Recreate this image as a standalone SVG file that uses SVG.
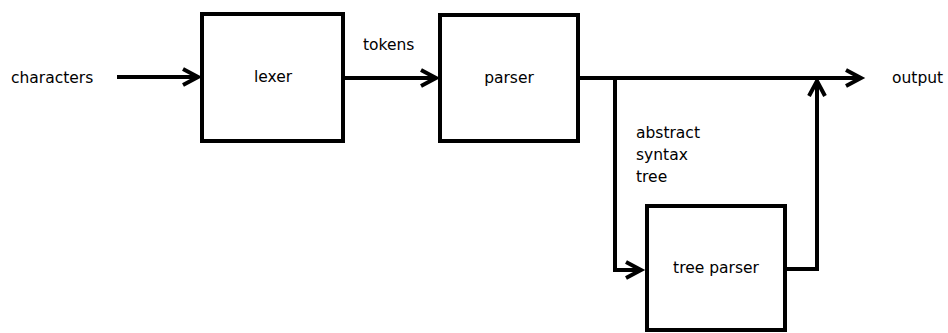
<svg xmlns="http://www.w3.org/2000/svg" width="948" height="333" viewBox="0 0 948 333">
  <style>
    .box { fill: #ffffff; stroke: #000000; stroke-width: 4; }
    .wire { fill: none; stroke: #000000; stroke-width: 4; stroke-linejoin: miter; }
    .label { font-family: "DejaVu Sans", "Liberation Sans", sans-serif; font-size: 15.5px; fill: #000000; }
    .mid { text-anchor: middle; }
  </style>
  <defs>
    <marker id="arrow" markerUnits="userSpaceOnUse" markerWidth="24" markerHeight="24" viewBox="-20 -12 24 24" refX="0" refY="0" orient="auto" overflow="visible">
      <path d="M-15,-8 L0,0 L-15,8" fill="none" stroke="#000000" stroke-width="4" stroke-linejoin="miter"/>
    </marker>
  </defs>
  <rect width="948" height="333" fill="#ffffff"/>

  <g id="connectors">
    <path class="wire" d="M117,77 L198,77" marker-end="url(#arrow)"/>
    <path class="wire" d="M345,78 L436,78" marker-end="url(#arrow)"/>
    <path class="wire" d="M580,78 L861,78" marker-end="url(#arrow)"/>
    <path class="wire" d="M615,78 L615,270 L641,270" marker-end="url(#arrow)"/>
    <path class="wire" d="M787,269 L817,269 L817,81" marker-end="url(#arrow)"/>
  </g>

  <g id="characters">
    <text class="label" x="11" y="83">characters</text>
  </g>
  <g id="lexer">
    <rect class="box" x="202" y="14" width="141" height="127"/>
    <text class="label mid" x="273" y="82">lexer</text>
  </g>
  <g id="tokens">
    <text class="label" x="363" y="50">tokens</text>
  </g>
  <g id="parser">
    <rect class="box" x="440" y="15" width="138" height="126"/>
    <text class="label mid" x="509" y="83">parser</text>
  </g>
  <g id="output">
    <text class="label" x="892" y="83">output</text>
  </g>
  <g id="ast">
    <text class="label" x="636" y="138">abstract</text>
    <text class="label" x="636" y="160">syntax</text>
    <text class="label" x="636" y="182">tree</text>
  </g>
  <g id="tree-parser">
    <rect class="box" x="647" y="206" width="138" height="124"/>
    <text class="label mid" x="716" y="273">tree parser</text>
  </g>
</svg>
